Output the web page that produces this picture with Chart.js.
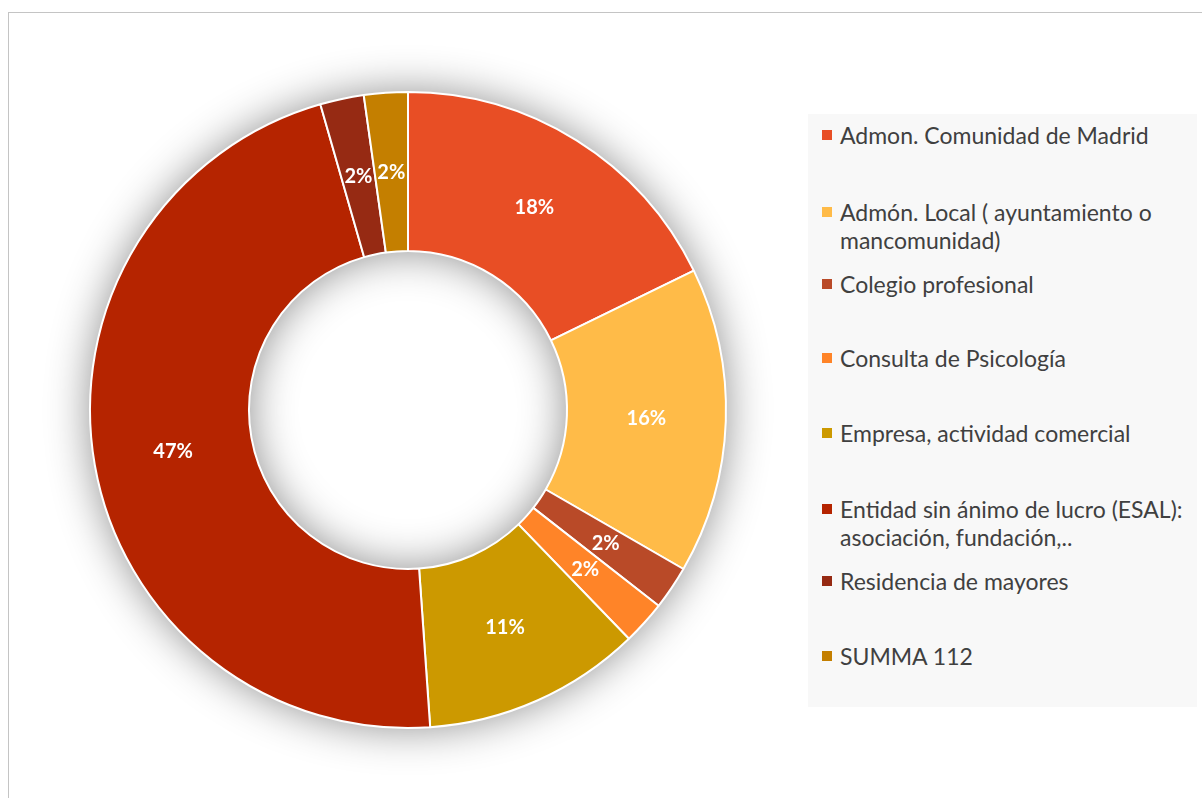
<!DOCTYPE html>
<html>
<head>
<meta charset="utf-8">
<script src="https://cdn.jsdelivr.net/npm/chart.js@4/dist/chart.umd.min.js"></script>
<style>
  body { margin: 0; background: #fff; width: 1202px; height: 798px; overflow: hidden; position: relative; font-family: Lato, "Open Sans", sans-serif; }
  .frame { position: absolute; left: 8px; top: 12px; width: 1300px; height: 900px; border: 1px solid #c4c4c4; box-sizing: border-box; }
  #wrap { position: absolute; left: 0; top: 0; width: 1202px; height: 798px; }
  .legend { position: absolute; left: 808px; top: 114px; width: 389px; height: 593px; background: #f8f8f8; }
  .item { position: absolute; left: 32px; font-size: 23px; line-height: 28px; color: #404040; width: 356px; white-space: nowrap; }
  .item i { position: absolute; left: -18px; top: 9px; width: 10px; height: 10px; }
</style>
</head>
<body>
<div class="frame"></div>
<div id="wrap"><canvas id="pie"></canvas></div>
<div class="legend" id="legend"></div>
<script>
const categorias = ['Admon. Comunidad de Madrid', 'Admón. Local ( ayuntamiento o mancomunidad)', 'Colegio profesional', 'Consulta de Psicología', 'Empresa, actividad comercial', 'Entidad sin ánimo de lucro (ESAL): asociación, fundación,..', 'Residencia de mayores', 'SUMMA 112'];
const lineasLeyenda = [['Admon. Comunidad de Madrid'], ['Admón. Local ( ayuntamiento o', 'mancomunidad)'], ['Colegio profesional'], ['Consulta de Psicología'], ['Empresa, actividad comercial'], ['Entidad sin ánimo de lucro (ESAL):', 'asociación, fundación,..'], ['Residencia de mayores'], ['SUMMA 112']];
const valores = [8, 7, 1, 1, 5, 21, 1, 1];
const colores = ['#E84E25', '#FFBB48', '#B94A28', '#FF8428', '#CC9900', '#B52400', '#962A13', '#C47F00'];

// legend rows (top of first line)
const filasTop = [7, 84, 156, 230, 305, 381, 453, 528];
let leg = document.getElementById('legend');
lineasLeyenda.forEach(function (l, i) {
  let d = document.createElement('div');
  d.className = 'item';
  d.style.top = filasTop[i] + 'px';
  d.innerHTML = '<i style="background:' + colores[i] + '"></i>' + l.join('<br>');
  leg.appendChild(d);
});

// soft grey halo around the ring (inside and outside)
const sombra = {
  id: 'sombra',
  beforeDatasetsDraw(chart) {
    let arc = chart.getDatasetMeta(0).data[0];
    if (!arc) return;
    let ctx = chart.ctx;
    ctx.save();
    ctx.shadowColor = 'rgba(0,0,0,0.45)';
    ctx.shadowBlur = 44;
    ctx.fillStyle = '#fff';
    ctx.beginPath();
    ctx.arc(arc.x, arc.y, arc.outerRadius, 0, Math.PI * 2);
    ctx.arc(arc.x, arc.y, arc.innerRadius, Math.PI * 2, 0, true);
    ctx.fill();
    ctx.restore();
  }
};

const etiquetas = {
  id: 'etiquetas',
  afterDatasetsDraw(chart) {
    let ctx = chart.ctx;
    let total = valores.reduce((a, b) => a + b, 0);
    ctx.save();
    ctx.fillStyle = '#fff';
    ctx.font = 'bold 20px Lato, "Open Sans", sans-serif';
    ctx.textAlign = 'center';
    ctx.textBaseline = 'middle';
    chart.getDatasetMeta(0).data.forEach(function (a, i) {
      let p = a.tooltipPosition();
      ctx.fillText(Math.round(valores[i] / total * 100) + '%', p.x, p.y);
    });
    ctx.restore();
  }
};

new Chart(document.getElementById('pie'), {
  type: 'doughnut',
  data: {
    labels: categorias,
    datasets: [{
      data: valores,
      backgroundColor: colores,
      borderColor: '#fff',
      borderWidth: 2
    }]
  },
  options: {
    responsive: true,
    maintainAspectRatio: false,
    animation: false,
    cutout: '50%',
    layout: { padding: { left: 89, top: 91, right: 475, bottom: 69 } },
    plugins: {
      legend: { display: false },
      tooltip: { enabled: false }
    }
  },
  plugins: [sombra, etiquetas]
});
</script>
</body>
</html>
